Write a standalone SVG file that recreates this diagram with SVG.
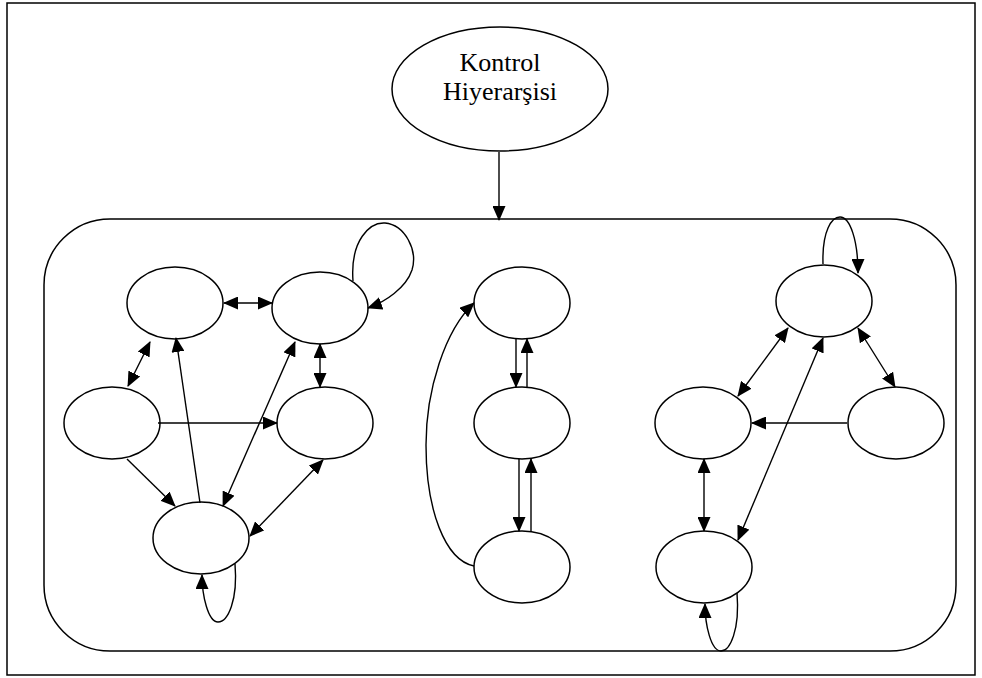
<svg xmlns="http://www.w3.org/2000/svg" width="982" height="678" viewBox="0 0 982 678">
<style>
.n{fill:#fff;stroke:#000;stroke-width:1.5}
.c{fill:none;stroke:#000;stroke-width:1.4}
.t{font-family:"Liberation Serif","Times New Roman",serif;font-size:26px;fill:#000}
</style>
<defs>
<marker id="ah" viewBox="0 0 15 13" refX="14" refY="6.5" markerWidth="15" markerHeight="13" markerUnits="userSpaceOnUse" orient="auto-start-reverse"><path d="M0,0 L15,6.5 L0,13 z" fill="#000"/></marker>
</defs>
<rect x="0" y="0" width="982" height="678" fill="#fff"/>
<rect x="7" y="3" width="968" height="672" fill="none" stroke="#000" stroke-width="1.5"/>
<rect x="44" y="219" width="912" height="432" rx="66" ry="66" fill="none" stroke="#000" stroke-width="1.5"/>
<g id="kontrol">
<ellipse class="n" cx="500" cy="89" rx="108" ry="62"/>
<text class="t" x="500" y="71" text-anchor="middle">Kontrol</text>
<text class="t" x="500" y="100" text-anchor="middle">Hiyerarşisi</text>
</g>
<g id="A"><ellipse class="n" cx="175" cy="303" rx="48" ry="36"/></g>
<g id="B"><ellipse class="n" cx="320" cy="308" rx="48" ry="36"/></g>
<g id="C"><ellipse class="n" cx="112" cy="423" rx="48" ry="36"/></g>
<g id="D"><ellipse class="n" cx="325" cy="423" rx="48" ry="36"/></g>
<g id="E"><ellipse class="n" cx="201" cy="538" rx="48" ry="36"/></g>
<g id="F"><ellipse class="n" cx="522" cy="303" rx="48" ry="36"/></g>
<g id="G"><ellipse class="n" cx="522" cy="423" rx="48" ry="36"/></g>
<g id="H"><ellipse class="n" cx="522" cy="567" rx="48" ry="36"/></g>
<g id="I"><ellipse class="n" cx="824" cy="301" rx="48" ry="36"/></g>
<g id="J"><ellipse class="n" cx="703" cy="423" rx="48" ry="36"/></g>
<g id="K"><ellipse class="n" cx="896" cy="423" rx="48" ry="36"/></g>
<g id="L"><ellipse class="n" cx="704" cy="567" rx="48" ry="36"/></g>
<g id="connectors">
<path class="c" d="M499,152 L499,220" marker-end="url(#ah)"/>
<path class="c" d="M224,303 L272,303" marker-start="url(#ah)" marker-end="url(#ah)"/>
<path class="c" d="M353,281 C350,240 370,222 385,223 C405,225 418,250 412,270 C406,288 385,302 368,308" marker-end="url(#ah)"/>
<path class="c" d="M150,342 L128,386" marker-start="url(#ah)" marker-end="url(#ah)"/>
<path class="c" d="M200,503 L176,338" marker-end="url(#ah)"/>
<path class="c" d="M295,342 L223,506" marker-start="url(#ah)" marker-end="url(#ah)"/>
<path class="c" d="M320,344 L320,387" marker-start="url(#ah)" marker-end="url(#ah)"/>
<path class="c" d="M158,423 L277,423" marker-end="url(#ah)"/>
<path class="c" d="M127,459 L175,506" marker-end="url(#ah)"/>
<path class="c" d="M323,460 L250,536" marker-start="url(#ah)" marker-end="url(#ah)"/>
<path class="c" d="M235,564 C238,600 228,622 218,622 C208,622 202,595 202,575" marker-end="url(#ah)"/>
<path class="c" d="M516,339 L516,387" marker-end="url(#ah)"/>
<path class="c" d="M527,387 L527,339" marker-end="url(#ah)"/>
<path class="c" d="M519,459 L519,531" marker-end="url(#ah)"/>
<path class="c" d="M531,531 L531,459" marker-end="url(#ah)"/>
<path class="c" d="M474,566 C445,560 426,510 426,445 C426,390 445,330 474,303" marker-end="url(#ah)"/>
<path class="c" d="M823,264 C822,230 832,217 840,217 C850,217 858,240 858,273" marker-end="url(#ah)"/>
<path class="c" d="M788,328 L738,396" marker-start="url(#ah)" marker-end="url(#ah)"/>
<path class="c" d="M858,328 L895,387" marker-start="url(#ah)" marker-end="url(#ah)"/>
<path class="c" d="M847,423 L752,423" marker-end="url(#ah)"/>
<path class="c" d="M823,338 L738,540" marker-start="url(#ah)" marker-end="url(#ah)"/>
<path class="c" d="M704,459 L704,531" marker-start="url(#ah)" marker-end="url(#ah)"/>
<path class="c" d="M737,593 C740,630 730,651 721,651 C711,651 705,625 705,604" marker-end="url(#ah)"/>
</g>
</svg>
